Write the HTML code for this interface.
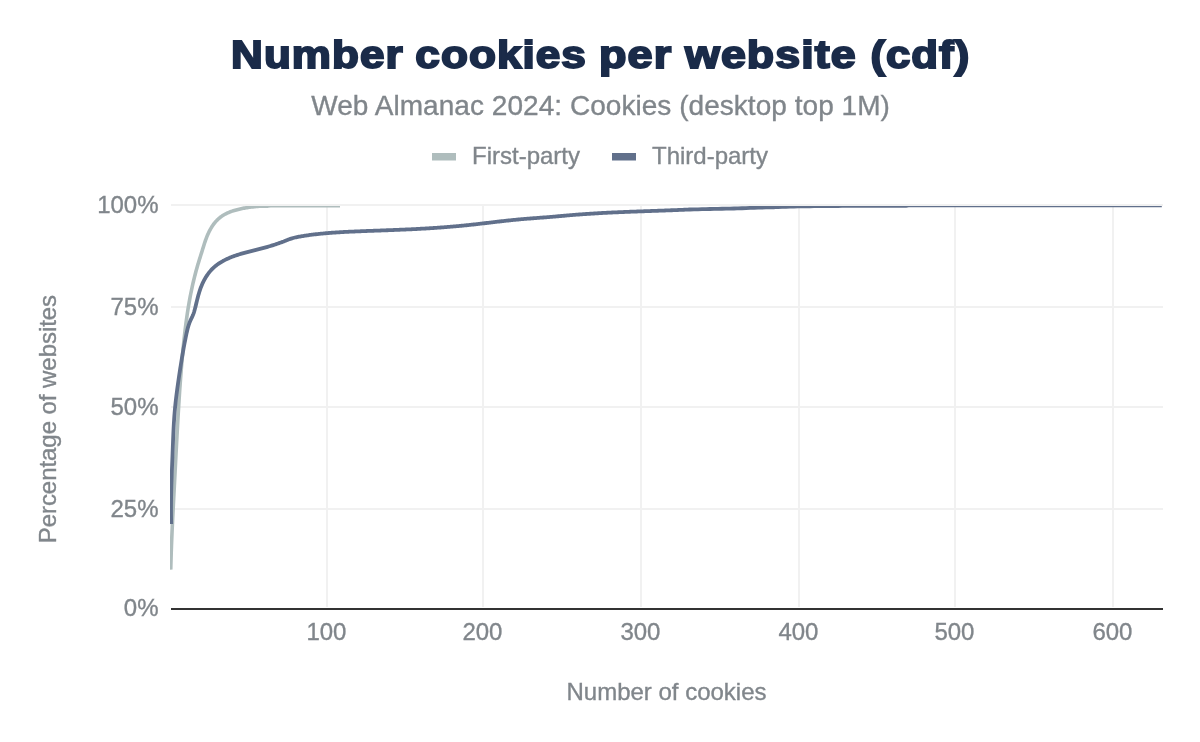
<!DOCTYPE html>
<html lang="en">
<head>
<meta charset="utf-8">
<title>Number cookies per website (cdf)</title>
<style>
html,body{margin:0;padding:0;background:#fff;}
body{width:1200px;height:742px;overflow:hidden;}
svg{display:block;}
text{font-family:"Liberation Sans",Arial,Helvetica,sans-serif;}
.g{fill:#80868b;font-size:24px;stroke:#80868b;stroke-width:0.35px;}
</style>
</head>
<body>
<svg width="1200" height="742" viewBox="0 0 1200 742">
<rect width="1200" height="742" fill="#ffffff"/>
<defs><clipPath id="plot"><rect x="170" y="206" width="993" height="402"/></clipPath></defs>
<!-- title -->
<text y="67.9" font-size="37.9" font-weight="bold" fill="#1a2b49" stroke="#1a2b49" stroke-width="1.9" stroke-linejoin="miter" stroke-miterlimit="2.5" letter-spacing="0.9"><tspan x="231.09" textLength="172.64" lengthAdjust="spacingAndGlyphs">Number</tspan> <tspan x="415.30" textLength="171.68" lengthAdjust="spacingAndGlyphs">cookies</tspan> <tspan x="599.10" textLength="73.17" lengthAdjust="spacingAndGlyphs">per</tspan> <tspan x="685.00" textLength="171.64" lengthAdjust="spacingAndGlyphs">website</tspan> <tspan x="870.40" textLength="99.91" lengthAdjust="spacingAndGlyphs">(cdf)</tspan></text>
<text x="311.3" y="114.8" font-size="28" fill="#80868b" stroke="#80868b" stroke-width="0.35" textLength="578.6" lengthAdjust="spacing">Web Almanac 2024: Cookies (desktop top 1M)</text>
<!-- legend -->
<rect x="432" y="153" width="24" height="7.5" fill="#afbdbd"/>
<text class="g" x="472" y="164">First-party</text>
<rect x="612" y="153" width="24" height="7.5" fill="#61708b"/>
<text class="g" x="652" y="164">Third-party</text>
<!-- gridlines -->
<g fill="#f1f1f1">
<rect x="171" y="204" width="992" height="2"/>
<rect x="171" y="306" width="992" height="2"/>
<rect x="171" y="406" width="992" height="2"/>
<rect x="171" y="508" width="992" height="2"/>
<rect x="326" y="204" width="2" height="403"/>
<rect x="482" y="204" width="2" height="403"/>
<rect x="640" y="204" width="2" height="403"/>
<rect x="798" y="204" width="2" height="403"/>
<rect x="954" y="204" width="2" height="403"/>
<rect x="1112" y="204" width="2" height="403"/>
</g>
<rect x="171" y="608" width="992" height="2" fill="#333333"/>
<!-- series -->
<g clip-path="url(#plot)" fill="none" stroke-width="3.4" stroke-linejoin="round">
<path stroke="#afbdbd" stroke-width="3.6" d="M170.80,569.60 170.76,568.60 170.79,567.59 170.81,566.59 170.84,565.59 170.86,564.59 170.89,563.59 170.92,562.59 170.95,561.59 170.98,560.58 171.01,559.58 171.04,558.58 171.07,557.58 171.10,556.58 171.13,555.58 171.16,554.58 171.20,553.58 171.23,552.57 171.26,551.57 171.30,550.57 171.33,549.57 171.37,548.57 171.41,547.57 171.45,546.57 171.48,545.57 171.52,544.57 171.56,543.56 171.60,542.56 171.64,541.56 171.68,540.56 171.72,539.56 171.76,538.56 171.80,537.56 171.85,536.56 171.89,535.56 171.93,534.56 171.98,533.56 172.02,532.55 172.06,531.55 172.11,530.55 172.15,529.55 172.20,528.55 172.24,527.55 172.29,526.55 172.34,525.55 172.38,524.55 172.43,523.55 172.48,522.55 172.53,521.55 172.57,520.54 172.62,519.54 172.67,518.54 172.72,517.54 172.77,516.54 172.82,515.54 172.87,514.54 172.92,513.54 172.97,512.54 173.02,511.54 173.07,510.54 173.12,509.54 173.17,508.54 173.22,507.54 173.27,506.54 173.33,505.53 173.38,504.53 173.43,503.53 173.48,502.53 173.53,501.53 173.58,500.53 173.64,499.53 173.69,498.53 173.74,497.53 173.79,496.53 173.85,495.53 173.90,494.53 173.95,493.53 174.00,492.53 174.06,491.53 174.11,490.53 174.16,489.52 174.21,488.52 174.27,487.52 174.32,486.52 174.37,485.52 174.42,484.52 174.48,483.52 174.53,482.52 174.58,481.52 174.63,480.52 174.68,479.52 174.74,478.52 174.79,477.52 174.84,476.52 174.89,475.52 174.94,474.52 175.00,473.52 175.05,472.51 175.10,471.51 175.15,470.51 175.20,469.51 175.26,468.51 175.31,467.51 175.36,466.51 175.41,465.51 175.47,464.51 175.52,463.51 175.57,462.51 175.62,461.51 175.67,460.51 175.73,459.51 175.78,458.51 175.83,457.51 175.88,456.51 175.94,455.51 175.99,454.50 176.04,453.50 176.09,452.50 176.15,451.50 176.20,450.50 176.25,449.50 176.30,448.50 176.36,447.50 176.41,446.50 176.46,445.50 176.52,444.50 176.57,443.50 176.62,442.50 176.68,441.50 176.73,440.50 176.78,439.50 176.84,438.50 176.89,437.50 176.94,436.50 177.00,435.50 177.05,434.49 177.11,433.49 177.16,432.49 177.22,431.49 177.27,430.49 177.33,429.49 177.38,428.49 177.44,427.49 177.49,426.49 177.55,425.49 177.60,424.49 177.66,423.49 177.72,422.49 177.77,421.49 177.83,420.49 177.89,419.49 177.95,418.49 178.00,417.49 178.06,416.49 178.12,415.49 178.18,414.49 178.24,413.49 178.30,412.49 178.36,411.49 178.42,410.49 178.48,409.49 178.54,408.49 178.60,407.49 178.66,406.49 178.72,405.49 178.78,404.49 178.85,403.49 178.91,402.49 178.97,401.49 179.04,400.49 179.10,399.49 179.16,398.49 179.23,397.49 179.30,396.49 179.36,395.49 179.43,394.49 179.49,393.49 179.56,392.49 179.63,391.49 179.70,390.49 179.77,389.49 179.84,388.49 179.91,387.49 179.98,386.50 180.05,385.50 180.12,384.50 180.19,383.50 180.26,382.50 180.34,381.50 180.41,380.50 180.48,379.50 180.56,378.50 180.63,377.50 180.71,376.50 180.79,375.51 180.86,374.51 180.94,373.51 181.02,372.51 181.10,371.51 181.18,370.51 181.26,369.51 181.34,368.51 181.42,367.52 181.50,366.52 181.59,365.52 181.67,364.52 181.76,363.52 181.84,362.52 181.93,361.52 182.01,360.53 182.10,359.53 182.19,358.53 182.28,357.53 182.37,356.53 182.46,355.54 182.55,354.54 182.64,353.54 182.73,352.54 182.83,351.55 182.92,350.55 183.02,349.55 183.11,348.55 183.21,347.55 183.31,346.56 183.41,345.56 183.51,344.56 183.61,343.57 183.71,342.57 183.82,341.57 183.92,340.58 184.03,339.58 184.13,338.58 184.24,337.59 184.35,336.59 184.46,335.60 184.58,334.60 184.69,333.60 184.81,332.61 184.92,331.61 185.04,330.62 185.16,329.62 185.28,328.63 185.41,327.64 185.53,326.64 185.66,325.65 185.78,324.65 185.91,323.66 186.04,322.67 186.18,321.67 186.31,320.68 186.45,319.69 186.59,318.70 186.73,317.70 186.87,316.71 187.01,315.72 187.16,314.73 187.30,313.74 187.45,312.75 187.61,311.76 187.76,310.77 187.92,309.78 188.07,308.79 188.23,307.80 188.40,306.81 188.56,305.82 188.73,304.84 188.90,303.85 189.07,302.86 189.24,301.87 189.42,300.89 189.59,299.90 189.77,298.92 189.96,297.93 190.14,296.95 190.33,295.96 190.52,294.98 190.71,293.99 190.91,293.01 191.11,292.03 191.31,291.05 191.51,290.07 191.72,289.08 191.93,288.10 192.14,287.12 192.35,286.15 192.57,285.17 192.79,284.19 193.01,283.21 193.24,282.24 193.47,281.26 193.70,280.29 193.93,279.31 194.17,278.34 194.41,277.37 194.65,276.40 194.90,275.43 195.15,274.46 195.40,273.49 195.66,272.52 195.91,271.55 196.18,270.59 196.44,269.62 196.71,268.66 196.98,267.70 197.26,266.74 197.53,265.78 197.82,264.82 198.10,263.86 198.39,262.90 198.68,261.94 198.97,260.99 199.27,260.03 199.57,259.08 199.86,258.12 200.16,257.17 200.46,256.22 200.76,255.26 201.07,254.31 201.37,253.35 201.67,252.40 201.97,251.44 202.27,250.48 202.56,249.53 202.86,248.57 203.16,247.61 203.45,246.65 203.75,245.69 204.06,244.73 204.36,243.78 204.67,242.82 204.99,241.87 205.32,240.91 205.65,239.96 205.99,239.02 206.34,238.07 206.71,237.13 207.08,236.19 207.47,235.26 207.87,234.33 208.29,233.41 208.72,232.49 209.16,231.58 209.62,230.68 210.09,229.79 210.58,228.91 211.09,228.04 211.61,227.18 212.15,226.34 212.70,225.50 213.27,224.69 213.86,223.89 214.47,223.10 215.09,222.33 215.73,221.58 216.40,220.85 217.08,220.14 217.78,219.45 218.50,218.78 219.24,218.14 220.00,217.52 220.77,216.92 221.57,216.35 222.39,215.79 223.23,215.27 224.08,214.76 224.95,214.28 225.83,213.81 226.73,213.37 227.64,212.94 228.56,212.54 229.49,212.15 230.43,211.78 231.39,211.43 232.35,211.09 233.31,210.77 234.29,210.47 235.26,210.18 236.25,209.90 237.23,209.64 238.22,209.39 239.21,209.15 240.20,208.92 241.19,208.71 242.18,208.50 243.17,208.31 244.16,208.12 245.15,207.95 246.14,207.78 247.12,207.62 248.11,207.47 249.10,207.33 250.09,207.20 251.07,207.08 252.06,206.96 253.05,206.85 254.03,206.75 255.02,206.65 256.01,206.56 256.99,206.48 257.98,206.40 258.96,206.32 260.00,206.30 264.00,206.20 268.00,206.10 270.50,205.65 272.00,205.64 276.00,205.63 280.00,205.62 284.00,205.61 288.00,205.60 292.00,205.60 296.00,205.60 300.00,205.60 304.00,205.60 308.00,205.60 312.00,205.60 316.00,205.60 320.00,205.60 324.00,205.60 328.00,205.60 332.00,205.60 336.00,205.60 340.00,205.60"/>
<path stroke="#61708b" stroke-width="3.8" d="M171.20,524.00 171.17,523.00 171.15,522.00 171.13,521.00 171.11,519.99 171.09,518.99 171.07,517.99 171.05,516.99 171.04,515.99 171.03,514.99 171.02,513.99 171.01,512.99 171.01,511.99 171.00,510.99 171.00,509.98 171.00,508.98 171.00,507.98 171.00,506.98 171.01,505.98 171.01,504.98 171.02,503.98 171.03,502.98 171.04,501.98 171.05,500.98 171.06,499.98 171.08,498.98 171.09,497.98 171.11,496.98 171.13,495.98 171.15,494.98 171.17,493.98 171.19,492.98 171.21,491.98 171.23,490.98 171.26,489.98 171.28,488.98 171.31,487.98 171.34,486.98 171.36,485.98 171.39,484.99 171.42,483.99 171.45,482.99 171.49,481.99 171.52,480.99 171.55,479.99 171.59,478.99 171.62,477.99 171.65,476.99 171.69,475.99 171.73,474.99 171.76,473.99 171.80,472.99 171.84,471.99 171.87,470.99 171.91,469.99 171.95,468.99 171.99,467.99 172.03,467.00 172.07,466.00 172.11,465.00 172.15,464.00 172.19,463.00 172.23,462.00 172.27,461.00 172.31,460.00 172.35,459.00 172.39,458.00 172.43,457.00 172.47,456.00 172.51,455.00 172.55,454.00 172.58,453.00 172.62,452.00 172.66,451.00 172.70,450.00 172.74,449.00 172.78,448.00 172.81,447.00 172.85,446.00 172.89,445.00 172.93,444.00 172.97,443.00 173.00,442.00 173.04,441.00 173.08,440.00 173.12,439.00 173.16,438.00 173.20,437.00 173.24,436.00 173.29,435.00 173.33,434.00 173.37,433.00 173.42,432.00 173.46,431.00 173.51,430.01 173.56,429.01 173.61,428.01 173.66,427.01 173.72,426.01 173.77,425.01 173.83,424.01 173.88,423.01 173.94,422.02 174.01,421.02 174.07,420.02 174.13,419.02 174.20,418.02 174.27,417.03 174.34,416.03 174.42,415.03 174.50,414.03 174.58,413.04 174.66,412.04 174.74,411.05 174.83,410.05 174.92,409.05 175.01,408.06 175.11,407.06 175.21,406.07 175.31,405.07 175.41,404.08 175.52,403.08 175.63,402.09 175.74,401.10 175.85,400.10 175.97,399.11 176.08,398.12 176.20,397.12 176.32,396.13 176.45,395.14 176.57,394.14 176.70,393.15 176.83,392.16 176.96,391.17 177.09,390.18 177.22,389.18 177.36,388.19 177.49,387.20 177.63,386.21 177.77,385.22 177.91,384.23 178.05,383.24 178.19,382.25 178.34,381.26 178.48,380.27 178.63,379.28 178.77,378.29 178.92,377.30 179.06,376.31 179.21,375.32 179.36,374.33 179.51,373.34 179.66,372.35 179.81,371.36 179.96,370.37 180.11,369.38 180.26,368.40 180.42,367.41 180.57,366.42 180.73,365.43 180.88,364.44 181.04,363.46 181.20,362.47 181.36,361.48 181.52,360.49 181.68,359.51 181.84,358.52 182.00,357.53 182.17,356.55 182.34,355.56 182.50,354.58 182.67,353.59 182.84,352.60 183.02,351.62 183.19,350.63 183.37,349.65 183.54,348.67 183.72,347.68 183.90,346.70 184.09,345.71 184.27,344.73 184.46,343.75 184.64,342.76 184.83,341.78 185.03,340.80 185.22,339.82 185.42,338.84 185.61,337.85 185.81,336.87 186.02,335.89 186.22,334.91 186.43,333.93 186.64,332.95 186.86,331.98 187.08,331.00 187.31,330.03 187.55,329.06 187.80,328.09 188.07,327.13 188.35,326.17 188.65,325.22 188.96,324.27 189.29,323.33 189.64,322.40 190.02,321.47 190.41,320.55 190.83,319.64 191.26,318.74 191.70,317.83 192.14,316.92 192.56,316.01 192.96,315.09 193.33,314.16 193.67,313.22 193.99,312.27 194.28,311.31 194.55,310.35 194.81,309.38 195.06,308.40 195.30,307.43 195.55,306.46 195.79,305.49 196.02,304.51 196.26,303.54 196.50,302.57 196.73,301.60 196.97,300.63 197.21,299.66 197.46,298.70 197.70,297.73 197.96,296.77 198.22,295.81 198.48,294.85 198.75,293.89 199.03,292.94 199.32,291.98 199.62,291.03 199.94,290.09 200.26,289.14 200.59,288.20 200.94,287.27 201.30,286.34 201.68,285.41 202.07,284.48 202.48,283.56 202.90,282.65 203.34,281.74 203.80,280.84 204.27,279.95 204.75,279.07 205.25,278.19 205.77,277.33 206.30,276.48 206.85,275.63 207.42,274.80 208.00,273.99 208.60,273.18 209.21,272.39 209.84,271.62 210.49,270.86 211.15,270.11 211.83,269.39 212.52,268.68 213.23,267.99 213.96,267.32 214.71,266.66 215.47,266.03 216.24,265.41 217.03,264.81 217.83,264.23 218.65,263.66 219.48,263.11 220.31,262.57 221.17,262.05 222.03,261.54 222.90,261.05 223.78,260.58 224.67,260.11 225.57,259.66 226.47,259.22 227.39,258.80 228.31,258.39 229.23,257.99 230.16,257.60 231.10,257.22 232.04,256.85 232.98,256.49 233.93,256.14 234.88,255.80 235.83,255.47 236.78,255.15 237.73,254.84 238.69,254.53 239.64,254.23 240.60,253.94 241.56,253.66 242.52,253.38 243.48,253.10 244.44,252.84 245.40,252.57 246.36,252.31 247.33,252.06 248.29,251.80 249.25,251.55 250.22,251.31 251.18,251.06 252.15,250.82 253.12,250.58 254.08,250.34 255.05,250.10 256.02,249.85 256.98,249.61 257.95,249.37 258.92,249.13 259.88,248.88 260.85,248.63 261.82,248.38 262.78,248.13 263.75,247.87 264.71,247.61 265.68,247.34 266.64,247.08 267.61,246.80 268.57,246.52 269.53,246.24 270.49,245.96 271.45,245.67 272.41,245.37 273.37,245.07 274.33,244.76 275.28,244.45 276.23,244.14 277.18,243.82 278.13,243.49 279.07,243.16 280.02,242.83 280.96,242.49 281.90,242.14 282.83,241.78 283.77,241.43 284.70,241.06 285.62,240.69 286.55,240.32 287.47,239.95 288.40,239.59 289.34,239.24 290.27,238.91 291.22,238.60 292.17,238.30 293.13,238.03 294.09,237.77 295.06,237.53 296.03,237.30 297.01,237.09 297.99,236.88 298.98,236.69 299.96,236.51 300.95,236.34 301.94,236.17 302.93,236.01 303.93,235.85 304.92,235.70 305.91,235.55 306.90,235.40 307.90,235.26 308.89,235.12 309.88,234.99 310.87,234.85 311.87,234.73 312.86,234.60 313.86,234.48 314.85,234.36 315.84,234.24 316.84,234.13 317.83,234.02 318.83,233.92 319.82,233.81 320.82,233.71 321.81,233.61 322.81,233.52 323.81,233.42 324.80,233.33 325.80,233.25 326.79,233.16 327.79,233.08 328.79,233.00 329.78,232.92 330.78,232.84 331.78,232.77 332.78,232.70 333.77,232.63 334.77,232.56 335.77,232.49 336.76,232.43 337.76,232.36 338.76,232.30 339.76,232.24 340.76,232.18 341.75,232.13 342.75,232.07 343.75,232.02 344.75,231.97 345.75,231.91 346.75,231.86 347.75,231.81 348.74,231.77 349.74,231.72 350.74,231.67 351.74,231.63 352.74,231.58 353.74,231.54 354.74,231.50 355.74,231.45 356.74,231.41 357.73,231.37 358.73,231.33 359.73,231.29 360.73,231.25 361.73,231.21 362.73,231.17 363.73,231.13 364.73,231.09 365.73,231.05 366.73,231.01 367.73,230.97 368.73,230.94 369.73,230.90 370.73,230.86 371.73,230.82 372.72,230.79 373.72,230.75 374.72,230.71 375.72,230.67 376.72,230.64 377.72,230.60 378.72,230.56 379.72,230.53 380.72,230.49 381.72,230.45 382.72,230.42 383.72,230.38 384.72,230.34 385.72,230.31 386.72,230.27 387.72,230.23 388.72,230.19 389.72,230.16 390.72,230.12 391.72,230.08 392.72,230.04 393.72,230.00 394.72,229.96 395.72,229.92 396.72,229.88 397.72,229.84 398.71,229.80 399.71,229.76 400.71,229.72 401.71,229.68 402.71,229.64 403.71,229.59 404.71,229.55 405.71,229.51 406.71,229.46 407.71,229.42 408.71,229.37 409.71,229.32 410.71,229.28 411.71,229.23 412.71,229.18 413.71,229.13 414.71,229.08 415.70,229.03 416.70,228.98 417.70,228.93 418.70,228.88 419.70,228.82 420.70,228.77 421.70,228.71 422.70,228.66 423.70,228.60 424.70,228.54 425.69,228.48 426.69,228.43 427.69,228.37 428.69,228.30 429.69,228.24 430.69,228.18 431.69,228.12 432.68,228.05 433.68,227.99 434.68,227.92 435.68,227.85 436.68,227.78 437.67,227.71 438.67,227.64 439.67,227.57 440.67,227.50 441.66,227.43 442.66,227.35 443.66,227.28 444.66,227.20 445.65,227.12 446.65,227.05 447.65,226.97 448.65,226.89 449.64,226.80 450.64,226.72 451.64,226.64 452.63,226.55 453.63,226.47 454.63,226.38 455.62,226.29 456.62,226.20 457.61,226.11 458.61,226.02 459.61,225.93 460.60,225.83 461.60,225.74 462.59,225.64 463.59,225.54 464.58,225.44 465.58,225.34 466.57,225.24 467.57,225.14 468.56,225.03 469.56,224.93 470.55,224.82 471.55,224.71 472.54,224.60 473.54,224.49 474.53,224.38 475.53,224.27 476.52,224.16 477.51,224.05 478.51,223.93 479.50,223.82 480.49,223.70 481.49,223.59 482.48,223.47 483.48,223.36 484.47,223.24 485.46,223.12 486.46,223.01 487.45,222.89 488.44,222.77 489.44,222.65 490.43,222.54 491.42,222.42 492.42,222.30 493.41,222.19 494.40,222.07 495.40,221.95 496.39,221.84 497.38,221.72 498.38,221.61 499.37,221.49 500.37,221.38 501.36,221.26 502.35,221.15 503.35,221.04 504.34,220.93 505.34,220.82 506.33,220.71 507.32,220.60 508.32,220.49 509.31,220.39 510.31,220.28 511.30,220.18 512.30,220.08 513.29,219.98 514.29,219.88 515.28,219.78 516.28,219.68 517.27,219.59 518.27,219.49 519.27,219.40 520.26,219.31 521.26,219.22 522.25,219.13 523.25,219.05 524.25,218.96 525.24,218.88 526.24,218.80 527.24,218.72 528.23,218.64 529.23,218.56 530.23,218.49 531.23,218.41 532.22,218.33 533.22,218.26 534.22,218.18 535.22,218.11 536.21,218.03 537.21,217.96 538.21,217.88 539.21,217.81 540.20,217.73 541.20,217.66 542.20,217.58 543.20,217.50 544.19,217.43 545.19,217.35 546.19,217.27 547.19,217.19 548.18,217.11 549.18,217.03 550.18,216.95 551.18,216.86 552.17,216.78 553.17,216.69 554.17,216.61 555.16,216.52 556.16,216.43 557.16,216.35 558.15,216.26 559.15,216.17 560.15,216.09 561.14,216.00 562.14,215.91 563.14,215.82 564.13,215.74 565.13,215.65 566.12,215.56 567.12,215.48 568.12,215.39 569.11,215.30 570.11,215.22 571.11,215.14 572.11,215.05 573.10,214.97 574.10,214.89 575.10,214.81 576.09,214.73 577.09,214.65 578.09,214.57 579.08,214.50 580.08,214.42 581.08,214.35 582.08,214.27 583.07,214.20 584.07,214.13 585.07,214.06 586.07,213.99 587.07,213.92 588.06,213.86 589.06,213.79 590.06,213.73 591.06,213.66 592.06,213.60 593.05,213.54 594.05,213.48 595.05,213.42 596.05,213.36 597.05,213.30 598.05,213.24 599.04,213.19 600.04,213.13 601.04,213.08 602.04,213.02 603.04,212.97 604.04,212.91 605.04,212.86 606.04,212.81 607.03,212.76 608.03,212.71 609.03,212.66 610.03,212.61 611.03,212.56 612.03,212.52 613.03,212.47 614.03,212.42 615.03,212.38 616.03,212.33 617.03,212.29 618.03,212.25 619.03,212.20 620.03,212.16 621.02,212.12 622.02,212.08 623.02,212.03 624.02,211.99 625.02,211.95 626.02,211.91 627.02,211.87 628.02,211.83 629.02,211.79 630.02,211.76 631.02,211.72 632.02,211.68 633.02,211.64 634.02,211.60 635.02,211.57 636.02,211.53 637.02,211.49 638.02,211.46 639.02,211.42 640.02,211.38 641.02,211.35 642.02,211.31 643.02,211.28 644.02,211.24 645.02,211.21 646.02,211.17 647.02,211.14 648.02,211.10 649.02,211.07 650.02,211.03 651.02,211.00 652.02,210.96 653.02,210.93 654.02,210.89 655.02,210.86 656.02,210.82 657.02,210.78 658.02,210.75 659.02,210.71 660.02,210.68 661.02,210.64 662.02,210.61 663.02,210.57 664.01,210.53 665.01,210.50 666.01,210.46 667.01,210.42 668.01,210.39 669.01,210.35 670.01,210.31 671.01,210.27 672.01,210.24 673.01,210.20 674.01,210.16 675.01,210.12 676.01,210.08 677.01,210.04 678.01,210.00 679.01,209.96 680.01,209.92 681.01,209.88 682.01,209.83 683.00,209.79 684.00,209.75 685.00,209.70 686.00,209.66 687.00,209.62 688.00,209.57 689.00,209.52 690.00,209.50 694.00,209.38 698.00,209.28 702.00,209.18 706.00,209.09 710.00,209.00 714.00,208.91 718.00,208.83 722.00,208.74 726.00,208.66 730.00,208.57 734.00,208.48 737.00,208.40 738.00,208.37 742.00,208.24 746.00,208.10 750.00,207.95 754.00,207.80 758.00,207.66 760.00,207.60 762.00,207.54 766.00,207.44 770.00,207.34 774.00,207.23 775.00,207.20 778.00,207.09 782.00,206.91 785.00,206.80 786.00,206.77 790.00,206.66 794.00,206.56 798.00,206.47 799.00,206.45 802.00,206.39 806.00,206.33 810.00,206.27 814.00,206.21 815.00,206.20 818.00,206.16 822.00,206.12 826.00,206.08 830.00,206.04 834.00,206.01 835.00,206.00 838.00,205.98 842.00,205.95 846.00,205.92 850.00,205.90 853.00,205.90 854.00,205.90 858.00,205.90 862.00,205.90 866.00,205.90 870.00,205.90 874.00,205.90 878.00,205.90 880.00,205.90 882.00,205.90 886.00,205.90 890.00,205.90 894.00,205.90 898.00,205.90 902.00,205.90 905.00,205.90 906.00,205.80 908.50,205.40 910.00,205.40 914.00,205.39 918.00,205.39 922.00,205.38 926.00,205.38 930.00,205.37 934.00,205.37 938.00,205.37 942.00,205.36 946.00,205.36 950.00,205.36 954.00,205.36 958.00,205.36 962.00,205.35 966.00,205.35 970.00,205.35 974.00,205.35 978.00,205.35 982.00,205.35 986.00,205.35 990.00,205.35 994.00,205.35 998.00,205.35 1000.00,205.35 1002.00,205.35 1006.00,205.35 1010.00,205.35 1014.00,205.35 1018.00,205.35 1022.00,205.35 1026.00,205.35 1030.00,205.35 1034.00,205.35 1038.00,205.35 1042.00,205.35 1046.00,205.35 1050.00,205.35 1054.00,205.35 1058.00,205.35 1062.00,205.35 1066.00,205.35 1070.00,205.35 1074.00,205.35 1078.00,205.35 1082.00,205.35 1086.00,205.35 1090.00,205.35 1094.00,205.35 1098.00,205.35 1102.00,205.35 1106.00,205.35 1110.00,205.35 1114.00,205.35 1118.00,205.35 1122.00,205.35 1126.00,205.35 1130.00,205.35 1134.00,205.35 1138.00,205.35 1142.00,205.35 1146.00,205.35 1150.00,205.35 1154.00,205.35 1158.00,205.35 1161.80,205.35"/>
</g>
<!-- y labels -->
<g class="g" text-anchor="end">
<text transform="translate(158.5,212.7) scale(1,1.02)">100%</text>
<text transform="translate(158.5,314.7) scale(1,1.02)">75%</text>
<text transform="translate(158.5,414.7) scale(1,1.02)">50%</text>
<text transform="translate(158.5,516.6) scale(1,1.02)">25%</text>
<text transform="translate(158.5,616.4) scale(1,1.02)">0%</text>
</g>
<!-- x labels -->
<g class="g" text-anchor="middle">
<text transform="translate(326.4,639.6) scale(1,1.02)">100</text>
<text transform="translate(482.4,639.6) scale(1,1.02)">200</text>
<text transform="translate(640.4,639.6) scale(1,1.02)">300</text>
<text transform="translate(798.4,639.6) scale(1,1.02)">400</text>
<text transform="translate(954.4,639.6) scale(1,1.02)">500</text>
<text transform="translate(1112.4,639.6) scale(1,1.02)">600</text>
</g>
<text class="g" x="666.5" y="700.1" text-anchor="middle">Number of cookies</text>
<text class="g" transform="translate(56.3,419.1) rotate(-90)" text-anchor="middle" textLength="248.4" lengthAdjust="spacing">Percentage of websites</text>
</svg>
</body>
</html>
